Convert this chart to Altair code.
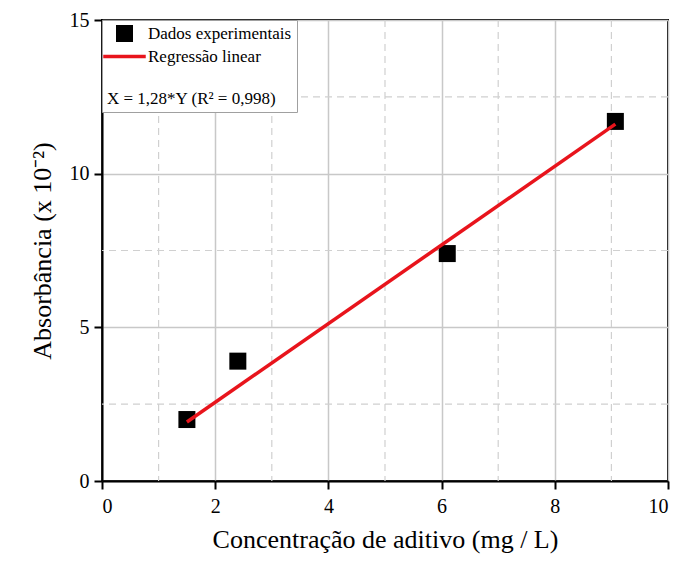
import altair as alt
import pandas as pd

# Experimental data
conc = [1.5, 2.4, 6.1, 9.07]
absorb = [2.0, 3.9, 7.4, 11.7]

# Linear regression (X = 1,28*Y) endpoints
fit_x = [1.5, 9.07]
fit_y = [1.92, 11.61]

minor_x = [1, 3, 5, 7, 9]
minor_y = [2.5, 7.5, 12.5]

series = ["Dados experimentais", "Regressão linear"]
eq_text = "X = 1,28*Y (R² = 0,998)"

pts = pd.DataFrame({"x": conc, "y": absorb, "series": series[0]})
fit = pd.DataFrame({"x": fit_x, "y": fit_y})
mx = pd.DataFrame({"x": minor_x})
my = pd.DataFrame({"y": minor_y})

FONT = "Liberation Serif"
LINE_PATH = "M-2.5,-0.2H2.5V0.2H-2.5Z"

xscale = alt.Scale(domain=[0, 10], nice=False)
yscale = alt.Scale(domain=[0, 15], nice=False)

xaxis = alt.Axis(values=[0, 2, 4, 6, 8, 10], title="Concentração de aditivo (mg / L)",
                 labelPadding=7, titlePadding=10)
yaxis = alt.Axis(values=[0, 5, 10, 15], title="Absorbância (x 10⁻²)",
                 labelPadding=5, titlePadding=14)

minor_v = alt.Chart(mx).mark_rule(color="#d0d0d0", strokeWidth=1.2, strokeDash=[7, 5]).encode(
    x=alt.X("x:Q", scale=xscale, axis=xaxis)
)
minor_h = alt.Chart(my).mark_rule(color="#d0d0d0", strokeWidth=1.2, strokeDash=[7, 5]).encode(
    y=alt.Y("y:Q", scale=yscale, axis=yaxis)
)

legend = alt.Legend(
    title=eq_text, titleOrient="bottom", titleAlign="left", titlePadding=26,
    titleFont=FONT, titleFontSize=17, titleFontWeight="normal", titleColor="black",
    labelFont=FONT, labelFontSize=17, labelColor="black", labelOffset=15,
    orient="top-left", offset=0, padding=5, symbolOffset=9,
    fillColor="white", strokeColor="#a0a0a0",
    symbolSize=289, symbolStrokeWidth=0, symbolOpacity=1,
)

points = alt.Chart(pts).mark_point(filled=True, size=289, opacity=1).encode(
    x=alt.X("x:Q", scale=xscale, axis=xaxis),
    y=alt.Y("y:Q", scale=yscale, axis=yaxis),
    color=alt.Color("series:N", scale=alt.Scale(domain=series, range=["black", "#e8141c"]), legend=legend),
    shape=alt.Shape("series:N", scale=alt.Scale(domain=series, range=["square", LINE_PATH]), legend=legend),
)

line = alt.Chart(fit).mark_line(color="#e8141c", strokeWidth=3.5).encode(
    x=alt.X("x:Q", scale=xscale, axis=xaxis),
    y=alt.Y("y:Q", scale=yscale, axis=yaxis),
)

chart = alt.layer(minor_v, minor_h, points, line).properties(
    width=566, height=461,
    autosize=alt.AutoSizeParams(type="none"),
    padding={"left": 94, "top": 12, "right": 10, "bottom": 75},
).configure_view(
    stroke="black", strokeWidth=2
).configure_axis(
    domainColor="black", domainWidth=2, tickColor="black", tickWidth=2, tickSize=8,
    grid=True, gridColor="#c8c8c8", gridWidth=1.5,
    labelFont=FONT, labelFontSize=20, labelColor="black",
    titleFont=FONT, titleFontSize=26, titleFontWeight="normal", titleColor="black",
).configure_legend(
    strokeWidth=1, rowPadding=5
)

chart.save("out.html", embed_options={"renderer": "svg", "actions": False})
